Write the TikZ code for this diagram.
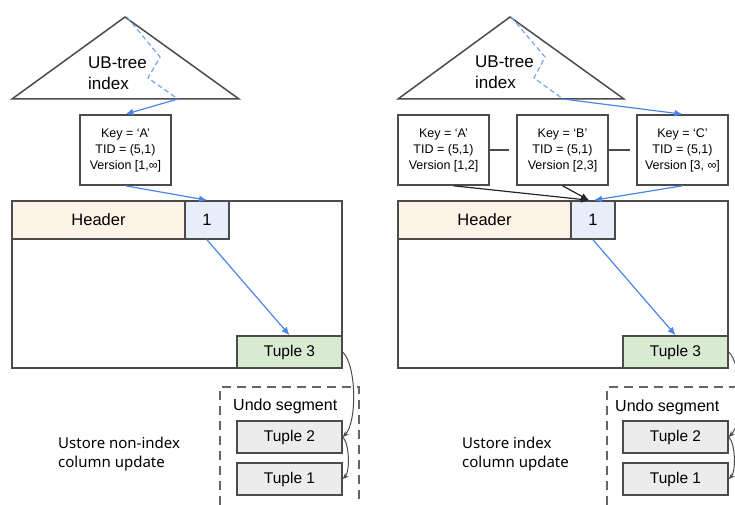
\documentclass[tikz,border=0pt]{standalone}
\usepackage{fontspec}
\setmainfont{Liberation Sans}
\newfontfamily\capfont{Noto Sans}
\usetikzlibrary{arrows.meta}

\definecolor{edgegray}{RGB}{75,75,75}
\definecolor{linkblue}{RGB}{74,134,232}
\definecolor{hdrfill}{RGB}{253,243,231}
\definecolor{slotfill}{RGB}{232,238,249}
\definecolor{newfill}{RGB}{217,234,211}
\definecolor{oldfill}{RGB}{236,236,236}

\tikzset{
  box/.style={draw=edgegray,line width=1.6pt,inner sep=0pt},
  keybox/.style={box,minimum width=91pt,minimum height=70pt,align=center,
    font=\fontsize{12.5}{16}\selectfont},
  pagebox/.style={box,minimum width=330pt,minimum height=167pt},
  hdrbox/.style={box,fill=hdrfill,minimum width=173pt,minimum height=38pt,
    font=\fontsize{16.5}{20}\selectfont},
  slotbox/.style={box,fill=slotfill,minimum width=44pt,minimum height=38pt,
    font=\fontsize{16.5}{20}\selectfont},
  tuplebox/.style={box,minimum width=105pt,minimum height=32pt,
    font=\fontsize{15.5}{19}\selectfont},
  bluelink/.style={draw=linkblue,line width=1.2pt,-{Latex[length=8pt,width=7pt]}},
  blacklink/.style={draw=black!85,line width=1.2pt,-{Latex[length=8pt,width=7pt]}},
  undolink/.style={draw=edgegray,line width=1pt,-{Stealth[length=6pt,width=5pt]}},
  treepath/.style={draw=linkblue!75,line width=1.2pt,dash pattern=on 5pt off 3pt},
  undoframe/.style={draw=black!60,line width=1.6pt,dash pattern=on 9pt off 6pt},
  treetext/.style={anchor=west,align=left,inner sep=0pt,font=\fontsize{17}{21}\selectfont},
  captext/.style={anchor=west,align=left,inner sep=0pt,font=\capfont\fontsize{15}{19}\selectfont}
}

\begin{document}
\begin{tikzpicture}[x=1pt,y=-1pt]
  \useasboundingbox (0,0) rectangle (735,505);

  % left: non-index column update
  \draw[edgegray,line width=1.5pt] (12,99) -- (125,17) -- (239,99) -- cycle;
  \node[treetext] (ltree) at (88,73.5) {UB-tree\\index};
  \coordinate (lleaf) at (178,99);
  \draw[treepath] (127,17) -- (160,57) -- (148,78) -- (lleaf);
  \node[keybox] (lkey) at (125.5,150) {Key = ‘A’\\TID = (5,1)\\Version [1,∞]};
  \node[pagebox] (lpage) at (177,284.5) {};
  \node[hdrbox] (lhdr) at (98.5,220) {Header};
  \node[slotbox] (lslot) at (207,220) {1};
  \node[tuplebox,fill=newfill] (ltup3) at (289.5,352) {Tuple 3};
  \draw[undoframe] (220,505) -- (220,387) -- (359,387) -- (359,505);
  \node[anchor=west,inner sep=0pt,font=\fontsize{16}{19}\selectfont] (lundo) at (233,406) {Undo segment};
  \node[tuplebox,fill=oldfill] (ltup2) at (289.5,437) {Tuple 2};
  \node[tuplebox,fill=oldfill] (ltup1) at (289.5,479) {Tuple 1};
  \node[captext] (lcap) at (58,454) {Ustore non-index\\column update};
  \draw[bluelink] (lleaf) -- (lkey.north);
  \draw[bluelink] (lkey.south) -- (lslot.north);
  \draw[bluelink] (lslot.south) -- (ltup3.north);
  \draw[undolink] (ltup3.east) to[out=-45,in=45,looseness=0.6] (ltup2.east);
  \draw[undolink] (ltup2.east) to[out=-45,in=45,looseness=0.6] (ltup1.east);

  % right: index column update
  \draw[edgegray,line width=1.5pt] (398,99) -- (510,17) -- (624,99) -- cycle;
  \node[treetext] (rtree) at (475,72.5) {UB-tree\\index};
  \coordinate (rleaf) at (563,99);
  \draw[treepath] (511,17) -- (545,57) -- (534,78) -- (rleaf);
  \node[keybox] (rkeyA) at (443.5,150) {Key = ‘A’\\TID = (5,1)\\Version [1,2]};
  \node[keybox] (rkeyB) at (562.5,150) {Key = ‘B’\\TID = (5,1)\\Version [2,3]};
  \node[keybox] (rkeyC) at (682.5,150) {Key = ‘C’\\TID = (5,1)\\Version [3, ∞]};
  \draw[edgegray,line width=1.5pt,shorten >=7pt] (rkeyA.east) -- (rkeyB.west);
  \draw[edgegray,line width=1.5pt,shorten >=6pt] (rkeyB.east) -- (rkeyC.west);
  \node[pagebox] (rpage) at (563,284.5) {};
  \node[hdrbox] (rhdr) at (484.5,220) {Header};
  \node[slotbox] (rslot) at (593,220) {1};
  \node[tuplebox,fill=newfill] (rtup3) at (675.5,352) {Tuple 3};
  \draw[undoframe] (607,505) -- (607,387) -- (735,387);
  \node[anchor=west,inner sep=0pt,font=\fontsize{16}{19}\selectfont] (rundo) at (615,407) {Undo segment};
  \node[tuplebox,fill=oldfill] (rtup2) at (675.5,437) {Tuple 2};
  \node[tuplebox,fill=oldfill] (rtup1) at (675.5,479) {Tuple 1};
  \node[captext] (rcap) at (462,454) {Ustore index\\column update};
  \draw[bluelink] (rleaf) -- (rkeyC.north);
  \draw[blacklink] ([xshift=10pt]rkeyA.south) -- ([xshift=-4pt]rslot.north);
  \draw[blacklink] (rkeyB.south) -- ([xshift=-4pt]rslot.north);
  \draw[bluelink] (rkeyC.south) -- ([xshift=1pt]rslot.north);
  \draw[bluelink] (rslot.south) -- (rtup3.north);
  \draw[undolink] (rtup3.east) to[out=-45,in=45,looseness=0.6] (rtup2.east);
  \draw[undolink] (rtup2.east) to[out=-45,in=45,looseness=0.6] (rtup1.east);
\end{tikzpicture}
\end{document}
